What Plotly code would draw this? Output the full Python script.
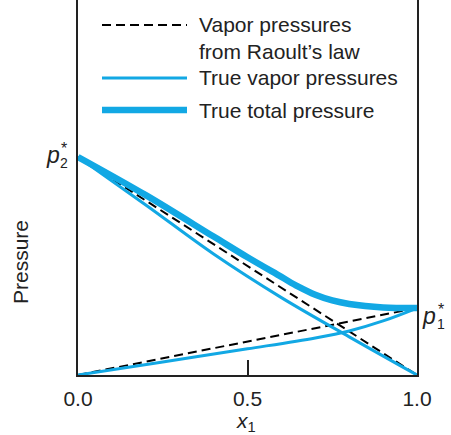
import plotly.graph_objects as go

# ---- data (pressure in units of p2* = 1) ----
raoult_x = [0.0, 1.0]
raoult_p2 = [1.0, 0.0]
raoult_p1 = [0.0, 0.307]

true_x = [0.0, 0.2, 0.4, 0.6, 0.8, 1.0]
true_p2 = [1.0, 0.78, 0.555, 0.355, 0.175, 0.0]

true_p1_x = [0.0, 0.25, 0.5, 0.7, 0.8, 0.9, 1.0]
true_p1 = [0.0, 0.06, 0.12, 0.17, 0.202, 0.248, 0.307]

total_x = [0.0, 0.2, 0.4, 0.5, 0.6, 0.65, 0.7, 0.75, 0.8, 0.9, 1.0]
total_p = [1.0, 0.825, 0.635, 0.54, 0.45, 0.405, 0.368, 0.342, 0.326, 0.31, 0.307]

x_ticks = [0.0, 0.5, 1.0]
x_tick_labels = ["0.0", "0.5", "1.0"]

legend_labels = ["Vapor pressures<br>from Raoult’s law", "True vapor pressures", "True total pressure"]

BLUE = "#12A8E4"
INK = "#222222"
FONT = "Liberation Sans, Arial, sans-serif"
FS = 21

W, H = 451, 435
L, R, T, B = 78, 34, 0, 60
PW, PH = W - L - R, H - T - B


def px(xp):
    return (xp - L) / PW


def py(yp):
    return (T + PH - yp) / PH


fig = go.Figure()
dash_line = dict(color="black", width=2, dash="9px,5px")
fig.add_trace(go.Scatter(x=raoult_x, y=raoult_p2, mode="lines", line=dash_line, showlegend=False))
fig.add_trace(go.Scatter(x=raoult_x, y=raoult_p1, mode="lines", line=dash_line, showlegend=False))
fig.add_trace(go.Scatter(x=true_x, y=true_p2, mode="lines", line_shape="spline",
                         line=dict(color=BLUE, width=3), showlegend=False))
fig.add_trace(go.Scatter(x=true_p1_x, y=true_p1, mode="lines", line_shape="spline",
                         line=dict(color=BLUE, width=3), showlegend=False))
fig.add_trace(go.Scatter(x=total_x, y=total_p, mode="lines", line_shape="spline",
                         line=dict(color=BLUE, width=6.5), showlegend=False))

shapes = []
ann = []
# manual legend
leg_rows = [(25, dash_line),
            (78, dict(color=BLUE, width=3)),
            (110, dict(color=BLUE, width=6.5))]
for (yy, ln) in leg_rows:
    shapes.append(dict(type="line", xref="paper", yref="paper",
                       x0=px(102), x1=px(187), y0=py(yy), y1=py(yy), line=ln))
text_rows = [(38, legend_labels[0]), (78, legend_labels[1]), (110, legend_labels[2])]
for (yy, t) in text_rows:
    ann.append(dict(text=t, xref="paper", yref="paper", x=px(197), y=py(yy),
                    xanchor="left", yanchor="middle", showarrow=False, align="left",
                    font=dict(size=FS, color=INK, family=FONT)))


def plabel(xc, yc, sub, small_dx):
    ann.append(dict(text="<i>p</i>", xref="paper", yref="paper", x=px(xc), y=py(yc),
                    xanchor="center", yanchor="middle", showarrow=False,
                    font=dict(size=23, color=INK, family=FONT)))
    ann.append(dict(text="*", xref="paper", yref="paper", x=px(xc + small_dx), y=py(yc - 7),
                    xanchor="center", yanchor="middle", showarrow=False,
                    font=dict(size=16, color=INK, family=FONT)))
    ann.append(dict(text=sub, xref="paper", yref="paper", x=px(xc + small_dx), y=py(yc + 8),
                    xanchor="center", yanchor="middle", showarrow=False,
                    font=dict(size=14, color=INK, family=FONT)))


plabel(53, 155, "2", 11)
plabel(429, 316, "1", 12)

# x-axis title
ann.append(dict(text="<i>x</i><sub>1</sub>", xref="paper", yref="paper", x=px(246), y=py(422),
                xanchor="center", yanchor="middle", showarrow=False,
                font=dict(size=FS, color=INK, family=FONT)))
# y-axis title
ann.append(dict(text="Pressure", xref="paper", yref="paper", x=px(20), y=py(262),
                xanchor="center", yanchor="middle", textangle=-90, showarrow=False,
                font=dict(size=FS, color=INK, family=FONT)))

fig.update_layout(
    width=W, height=H,
    margin=dict(l=L, r=R, t=T, b=B, pad=0),
    paper_bgcolor="white", plot_bgcolor="white",
    shapes=shapes, annotations=ann,
    font=dict(family=FONT, color=INK, size=FS),
)
fig.update_xaxes(range=[0, 1], showgrid=False, zeroline=False, showline=True,
                 linecolor=INK, linewidth=2, ticks="inside", ticklen=15, tickwidth=2,
                 tickcolor=INK, tickvals=x_ticks, ticktext=x_tick_labels,
                 tickfont=dict(size=FS, color=INK, family=FONT), ticklabelstandoff=4)
fig.update_yaxes(range=[0, PH / 218.0], showgrid=False, zeroline=False, showline=True,
                 mirror=True, linecolor=INK, linewidth=2, showticklabels=False, ticks="")

fig.write_html("out.html", config={"displayModeBar": False},
               post_script="document.body.style.margin='0px';document.body.style.padding='0px';")
